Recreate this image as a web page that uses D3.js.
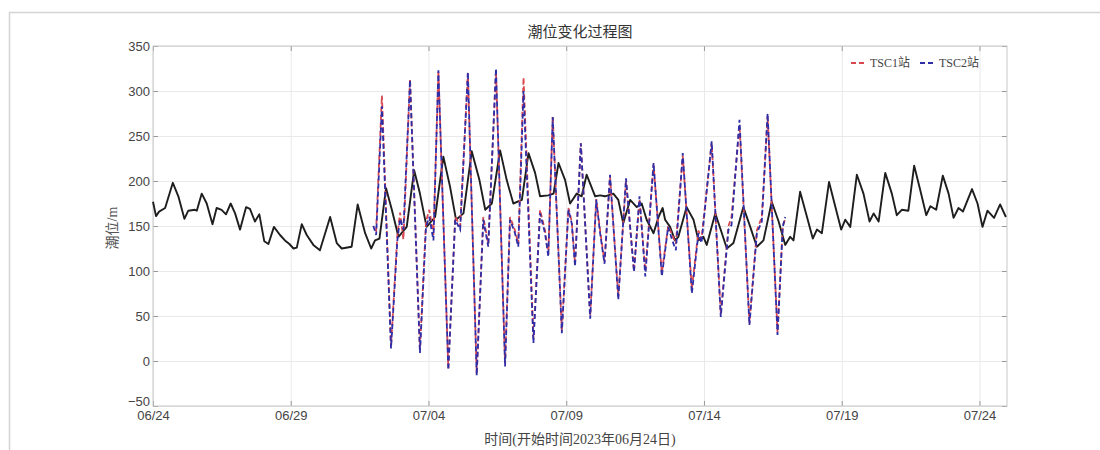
<!DOCTYPE html>
<html>
<head>
<meta charset="utf-8">
<script src="https://cdn.jsdelivr.net/npm/d3@7"></script>
<style>
  html, body { margin: 0; padding: 0; background: #fff; }
  svg { display: block; }
</style>
</head>
<body>
<svg id="chart" width="1100" height="450"></svg>
<script>
// Tide level records, time given in days after 2023-06-24 00:00
const startDate = "2023-06-24";
const endDate = "2023-07-25";

// Continuous reference gauge (black line)
const gaugeDays = [0.00,0.11,0.22,0.44,0.72,0.92,1.14,1.28,1.52,1.59,1.77,1.95,2.16,2.31,2.49,2.65,2.82,2.98,3.16,3.38,3.52,3.70,3.86,4.04,4.19,4.39,4.61,4.79,4.95,5.10,5.22,5.40,5.58,5.82,6.06,6.43,6.67,6.85,7.21,7.43,7.70,7.92,8.06,8.22,8.46,8.67,8.91,9.21,9.48,9.69,9.93,10.24,10.54,10.78,11.00,11.27,11.57,11.85,12.06,12.30,12.60,12.84,13.08,13.39,13.63,13.87,14.05,14.35,14.54,14.72,14.96,15.14,15.38,15.56,15.74,16.05,16.23,16.41,16.71,16.89,17.07,17.32,17.56,17.74,17.92,18.17,18.35,18.50,18.59,18.77,18.95,19.07,19.37,19.62,19.80,19.98,20.10,20.41,20.65,20.83,21.07,21.43,21.68,21.92,22.16,22.46,22.71,22.95,23.13,23.25,23.49,23.74,23.95,24.10,24.28,24.54,24.78,24.98,25.13,25.31,25.55,25.79,26.01,26.16,26.34,26.58,26.82,27.00,27.18,27.42,27.63,27.85,28.07,28.22,28.43,28.67,28.88,29.06,29.24,29.40,29.73,29.93,30.11,30.29,30.53,30.75,30.96];
const gaugeLevels = [177,161,166,170,198,183,158,167,168,167,186,175,152,170,168,163,175,164,146,171,169,155,163,133,130,149,140,134,130,125,126,152,140,129,123,160,131,125,127,174,142,125,134,136,192,168,138,149,212,186,149,160,227,194,157,164,233,201,168,175,234,201,175,179,231,209,183,184,186,220,201,175,186,183,207,183,184,183,186,179,153,179,171,175,157,142,160,170,157,149,134,138,171,157,134,138,129,164,142,125,131,171,149,127,134,177,155,129,138,134,188,160,136,146,142,199,170,146,157,149,207,186,155,164,155,209,186,162,168,167,217,190,162,172,168,206,186,159,170,166,191,175,149,167,159,174,160];

// TSC1 / TSC2 stations, shared sampling times
const stationDays = [8.00,8.10,8.31,8.64,8.87,8.97,9.09,9.33,9.69,9.91,10.03,10.18,10.36,10.72,10.97,11.15,11.43,11.75,11.99,12.17,12.45,12.78,12.96,13.14,13.26,13.45,13.81,14.05,14.23,14.35,14.51,14.84,15.08,15.20,15.32,15.53,15.87,16.09,16.23,16.39,16.59,16.89,17.17,17.46,17.66,17.87,18.17,18.47,18.70,18.85,18.98,19.23,19.56,19.80,19.91,20.28,20.61,20.89,21.00,21.29,21.65,21.92,22.10,22.31,22.67,22.86,22.95];
const tsc1Levels = [150,145,295,16,140,165,135,313,12,155,168,140,322,-8,160,150,320,-14,160,130,322,-3,160,145,130,315,25,168,145,118,272,33,170,155,108,242,50,180,145,110,205,72,200,100,180,100,218,98,150,140,130,228,80,145,135,242,52,150,160,262,42,145,160,272,32,150,158];
const tsc2Levels = [150,140,283,14,134,158,146,312,9,149,160,134,323,-10,157,146,321,-16,157,127,325,-6,157,142,127,300,20,164,142,116,271,31,168,153,105,242,47,179,142,108,207,68,203,99,183,94,220,94,149,134,123,231,75,142,131,244,49,146,151,268,40,142,155,275,29,149,160];

const yTicks = [-50, 0, 50, 100, 150, 200, 250, 300, 350];
const xTickLabels = ["06/24", "06/29", "07/04", "07/09", "07/14", "07/19", "07/24"];
const seriesNames = ["TSC1站", "TSC2站"];

const svg = d3.select("#chart");
const margin = { left: 153, right: 1007, top: 46, bottom: 406 };

const t0 = Date.UTC(2023, 5, 24);
const dayToDate = d => new Date(t0 + d * 86400000);
const parseTick = s => d3.utcParse("%Y/%m/%d")("2023/" + s);

const x = d3.scaleUtc()
  .domain([d3.utcParse("%Y-%m-%d")(startDate), d3.utcParse("%Y-%m-%d")(endDate)])
  .range([margin.left, margin.right]);
const y = d3.scaleLinear().domain([-50, 350]).range([margin.bottom, margin.top]);

// figure frame
svg.append("rect")
  .attr("x", 9.5).attr("y", 12.5).attr("width", 1100).attr("height", 450)
  .attr("fill", "none").attr("stroke", "#d4d4d4").attr("stroke-width", 1.5);

const W = margin.right - margin.left;
const H = margin.bottom - margin.top;
const xTickDates = xTickLabels.map(parseTick);

// grid
svg.append("g")
  .attr("transform", `translate(0,${margin.bottom})`)
  .call(d3.axisBottom(x).tickValues(xTickDates).tickSize(-H).tickFormat(""))
  .call(g => g.select(".domain").remove())
  .call(g => g.selectAll("line").attr("stroke", "#e9e9e9").attr("stroke-width", 1));
svg.append("g")
  .attr("transform", `translate(${margin.left},0)`)
  .call(d3.axisLeft(y).tickValues(yTicks).tickSize(-W).tickFormat(""))
  .call(g => g.select(".domain").remove())
  .call(g => g.selectAll("line").attr("stroke", "#e9e9e9").attr("stroke-width", 1));

// axes with inward ticks
const tickFont = g => g.selectAll("text")
  .attr("fill", "#444").attr("font-family", "Liberation Sans, Arial, sans-serif").attr("font-size", 13);

svg.append("g")
  .attr("transform", `translate(0,${margin.bottom})`)
  .call(d3.axisBottom(x).tickValues(xTickDates).tickSize(-5).tickPadding(5).tickFormat(d3.utcFormat("%m/%d")))
  .call(g => g.select(".domain").remove())
  .call(g => g.selectAll("line").attr("stroke", "#999"))
  .call(tickFont);
svg.append("g")
  .attr("transform", `translate(0,${margin.top})`)
  .call(d3.axisTop(x).tickValues(xTickDates).tickSize(-5).tickFormat(""))
  .call(g => g.select(".domain").remove())
  .call(g => g.selectAll("line").attr("stroke", "#999"));
svg.append("g")
  .attr("transform", `translate(${margin.left},0)`)
  .call(d3.axisLeft(y).tickValues(yTicks).tickSize(-5).tickPadding(3))
  .call(g => g.select(".domain").remove())
  .call(g => g.selectAll("line").attr("stroke", "#999"))
  .call(tickFont)
  // lowest label sits just above the date labels
  .call(g => g.selectAll(".tick").filter(d => d === -50).select("text").attr("dy", "-0.05em"));
svg.append("g")
  .attr("transform", `translate(${margin.right},0)`)
  .call(d3.axisRight(y).tickValues(yTicks).tickSize(-5).tickFormat(""))
  .call(g => g.select(".domain").remove())
  .call(g => g.selectAll("line").attr("stroke", "#999"));

// plot box
svg.append("rect")
  .attr("x", margin.left).attr("y", margin.top).attr("width", W).attr("height", H)
  .attr("fill", "none").attr("stroke", "#c8c8c8").attr("stroke-width", 1);

// lines
const line = d3.line().x(d => x(d[0])).y(d => y(d[1]));
const gauge = gaugeDays.map((d, i) => [dayToDate(d), gaugeLevels[i]]);
const tsc1 = stationDays.map((d, i) => [dayToDate(d), tsc1Levels[i]]);
const tsc2 = stationDays.map((d, i) => [dayToDate(d), tsc2Levels[i]]);

svg.append("path").datum(gauge).attr("d", line)
  .attr("fill", "none").attr("stroke", "#1e1e1e").attr("stroke-width", 1.9).attr("stroke-linejoin", "round");
svg.append("path").datum(tsc1).attr("d", line)
  .attr("fill", "none").attr("stroke", "#d9474f").attr("stroke-width", 1.8)
  .attr("stroke-dasharray", "5,3").attr("stroke-dashoffset", 4);
svg.append("path").datum(tsc2).attr("d", line)
  .attr("fill", "none").attr("stroke", "#2e2ea8").attr("stroke-width", 1.8)
  .attr("stroke-dasharray", "5,3");

// legend
const legendColors = ["#d9474f", "#2e2ea8"];
const legendX = [851, 920];
seriesNames.forEach((name, i) => {
  const g = svg.append("g").attr("transform", `translate(${legendX[i]},63)`);
  g.append("line").attr("x1", 0).attr("x2", 15).attr("y1", 0).attr("y2", 0)
    .attr("stroke", legendColors[i]).attr("stroke-width", 1.8).attr("stroke-dasharray", "5,3");
  g.append("text").attr("x", 19).attr("y", 4).text(name)
    .attr("fill", "#444").attr("font-size", 12)
    .attr("font-family", "Liberation Serif, 'Noto Sans CJK SC', serif");
});

// titles
svg.append("text").attr("x", 580).attr("y", 37).attr("text-anchor", "middle")
  .attr("font-size", 15).attr("fill", "#333")
  .attr("font-family", "'Noto Sans CJK SC', sans-serif").text("潮位变化过程图");
svg.append("text").attr("x", 580).attr("y", 444).attr("text-anchor", "middle")
  .attr("font-size", 14).attr("fill", "#444")
  .attr("font-family", "Liberation Serif, 'Noto Sans CJK SC', serif").text("时间(开始时间2023年06月24日)");
svg.append("text").attr("transform", "translate(117,228) rotate(-90)").attr("text-anchor", "middle")
  .attr("font-size", 14).attr("fill", "#555")
  .attr("font-family", "Liberation Serif, 'Noto Sans CJK SC', serif").text("潮位/m");
</script>
</body>
</html>
